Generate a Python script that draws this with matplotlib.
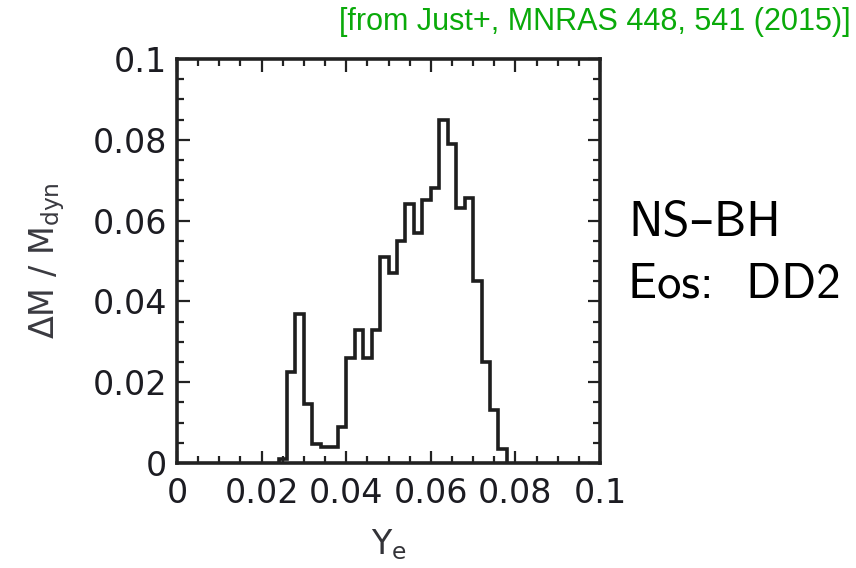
import matplotlib
matplotlib.use("Agg")
import matplotlib.pyplot as plt
from matplotlib.ticker import FixedLocator, FixedFormatter, MultipleLocator

# histogram of Ye (bin edges and mass fractions)
bin_edges = [0.024, 0.026, 0.028, 0.030, 0.032, 0.034, 0.036, 0.038, 0.040,
             0.042, 0.044, 0.046, 0.048, 0.050, 0.052, 0.054, 0.056, 0.058,
             0.060, 0.062, 0.064, 0.066, 0.068, 0.070, 0.072, 0.074, 0.076,
             0.078]
mass_frac = [0.001, 0.0225, 0.037, 0.0145, 0.0047, 0.004, 0.004, 0.009,
             0.026, 0.033, 0.026, 0.033, 0.051, 0.047, 0.055, 0.064, 0.057,
             0.065, 0.068, 0.085, 0.079, 0.063, 0.0655, 0.045, 0.025, 0.013,
             0.0035]

tick_vals = [0, 0.02, 0.04, 0.06, 0.08, 0.1]
tick_labels = ["0", "0.02", "0.04", "0.06", "0.08", "0.1"]

source_note = "[from Just+, MNRAS 448, 541 (2015)]"
case_lines = ["NS\u2013BH", "Eos:  DD2"]

plt.rcParams["mathtext.default"] = "regular"
ink = "#1c1c22"

fig = plt.figure(figsize=(8.56, 5.68), dpi=100)
ax = fig.add_axes([177 / 856, 105 / 568, 423 / 856, 404 / 568])

ax.stairs(mass_frac, bin_edges, baseline=0, color="#1e1e1e", linewidth=2.6)

ax.set_xlim(0, 0.1)
ax.set_ylim(0, 0.1)
for axis in (ax.xaxis, ax.yaxis):
    axis.set_major_locator(FixedLocator(tick_vals))
    axis.set_major_formatter(FixedFormatter(tick_labels))
    axis.set_minor_locator(MultipleLocator(0.005))

ax.tick_params(which="both", direction="in", top=True, right=True,
               color="#222222", width=1.6)
ax.tick_params(which="major", length=9, labelsize=24, labelcolor=ink)
ax.tick_params(which="minor", length=5)
ax.tick_params(axis="x", which="major", pad=10)
ax.tick_params(axis="y", which="major", pad=7)
for spine in ax.spines.values():
    spine.set_linewidth(2.6)
    spine.set_color("#222222")

ax.set_xlabel("Y$_e$", fontsize=24, color="#333338")
ax.xaxis.set_label_coords(0.5, -0.158)
ax.set_ylabel("\u0394M / M$_{dyn}$", fontsize=24, color="#3a3a40")
ax.yaxis.set_label_coords(-0.26, 0.5)

fig.text(851 / 856, 1 - 30 / 568, source_note, ha="right", va="baseline",
         fontsize=22, color="#0aaa0a", family="Liberation Sans")

for i, line in enumerate(case_lines):
    fig.text(628 / 856, 1 - (236 + 61 * i) / 568, line, ha="left",
             va="baseline", fontsize=35, color="black",
             family=["cmss10", "DejaVu Sans"])

fig.savefig("out.png", dpi=100)
